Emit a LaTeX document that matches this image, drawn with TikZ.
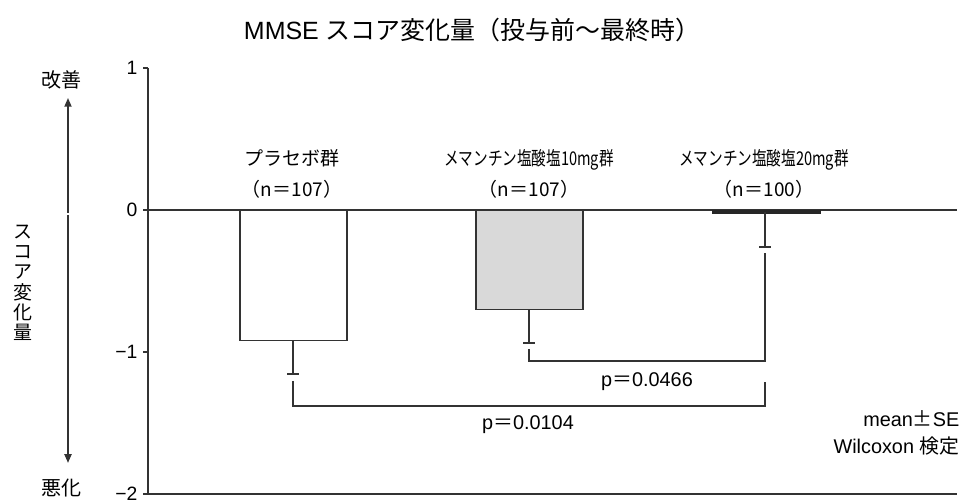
\documentclass[tikz,border=0pt]{standalone}
\usepackage{graphicx}
\usepackage{fontspec}
\setmainfont{Liberation Sans}
\newfontfamily\jp{Noto Sans CJK JP}
\usetikzlibrary{arrows.meta}

\begin{document}
\begin{tikzpicture}[x=0.02cm, y=2.84cm, line width=0.8pt, color=black!80,
  lbl/.style={font=\jp\fontsize{10.8}{10.8}\selectfont, inner sep=0pt, text=black},
  grp/.style={lbl, align=center, font=\jp\fontsize{10.8}{17.6}\selectfont},
  ticklbl/.style={anchor=east, inner sep=0pt, text=black, font=\fontsize{11}{13}\selectfont},
  note/.style={inner sep=0pt, text=black, font=\fontsize{11.3}{13}\selectfont},
  errbar/.style={line width=0.8pt},
  updown/.style={line width=1pt, -{Triangle[length=5pt,width=4pt]}}]
\useasboundingbox (0,-2.0423) rectangle (965,1.4789);

% title
\node[note, font=\fontsize{14.2}{16}\selectfont] (title) at (472,1.268) {MMSE {\jp スコア変化量（投与前～最終時）}};

% axes
\draw (148,1) -- (148,-2) -- (957,-2);
\draw (143,0) -- (957,0);
\foreach \v/\t in {1/1, 0/0, -1/{−1}, -2/{−2}} {
  \draw (143,\v) -- (148,\v);
  \node[ticklbl] (tick\t) at (138,\v) {\t};
}

% direction arrows
\draw[updown] (68,-0.021) -- (68,0.789);
\draw[updown] (68,-0.035) -- (68,-1.782);
\node[lbl, font=\jp\fontsize{11.4}{12}\selectfont] (better) at (62,0.915) {改善};
\node[lbl, font=\jp\fontsize{11.4}{12}\selectfont] (worse) at (62,-1.958) {悪化};
\foreach \c [count=\i from 0] in {ス,コ,ア,変,化,量}
  \node[lbl] (ylab\i) at (23,{-(22+20*\i)/142}) {\c};

% bars
\draw[fill=white] (240,0) rectangle (347,-0.92);
\draw[fill=black!15] (476,0) rectangle (583,-0.70);
\draw[line width=2.2pt, color=black!85] (712,-0.014) -- (821,-0.014);

% error bars
\draw[errbar] (293,-0.92) -- (293,-1.155) (287,-1.155) -- (299,-1.155);
\draw[errbar] (529,-0.70) -- (529,-0.937) (523,-0.937) -- (535,-0.937);
\draw[errbar] (765,-0.014) -- (765,-0.261) (759,-0.261) -- (771,-0.261);

% group labels
\node[grp] (placebo) at (292,0.257) {プラセボ群\\（n＝107）};
\node[grp] (mem10) at (529,0.257) {\scalebox{0.77}[1]{メマンチン塩酸塩10mg群}\\（n＝107）};
\node[grp] (mem20) at (764,0.257) {\scalebox{0.77}[1]{メマンチン塩酸塩20mg群}\\（n＝100）};

% comparisons
\coordinate (c10) at (529,-0.979);
\coordinate (c20) at (765,-0.303);
\coordinate (cpl) at (293,-1.204);
\coordinate (c20b) at (765,-1.211);
\draw (c10) |- (765,-1.063) -- (c20);
\draw (cpl) |- (765,-1.380) -- (c20b);
\node[note] (p1) at (647,-1.211) {p{\jp ＝}0.0466};
\node[note] (p2) at (528,-1.514) {p{\jp ＝}0.0104};

\node[note, anchor=east] (stat1) at (960,-1.472) {mean{\jp ±}SE};
\node[note, anchor=east] (stat2) at (960,-1.662) {Wilcoxon {\jp 検定}};
\end{tikzpicture}
\end{document}
